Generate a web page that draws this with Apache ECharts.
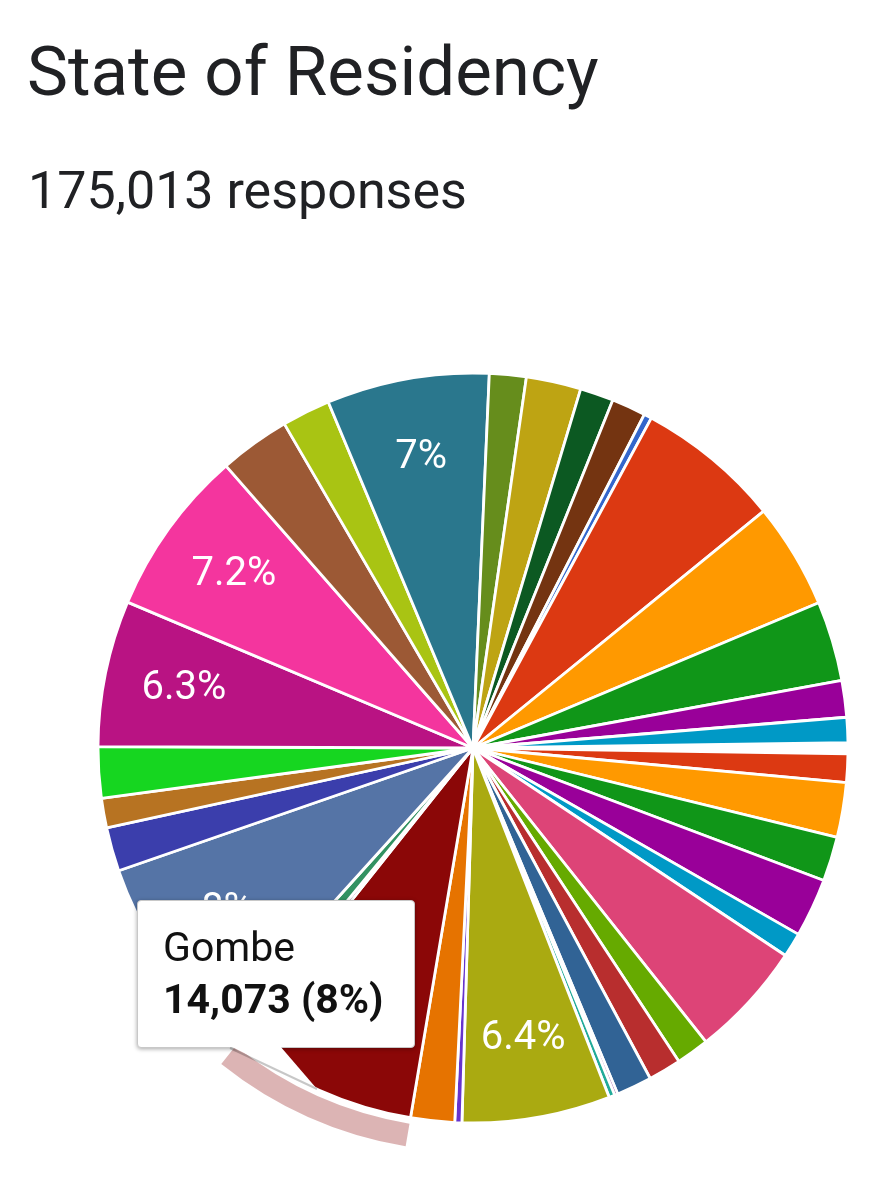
<!DOCTYPE html>
<html>
<head>
<meta charset="utf-8">
<script src="https://cdn.jsdelivr.net/npm/echarts@6/dist/echarts.min.js"></script>
<style>
  html, body { margin: 0; padding: 0; background: #ffffff; }
  #chart { width: 893px; height: 1200px; position: relative; }
</style>
</head>
<body>
<div id="chart"></div>
<script>
// ---- data (clockwise from 3 o'clock) ----
const titleText = 'State of Residency';
const subtitleText = '175,013 responses';
const categories = ['Abia','Adamawa','Akwa Ibom','Anambra','Bauchi','Bayelsa','Benue','Borno','Cross River','Delta',
  'Ebonyi','Edo','Ekiti','Enugu','FCT','Gombe','Imo','Jigawa','Kaduna','Kano','Katsina','Kebbi','Kogi','Kwara',
  'Lagos','Nasarawa','Niger','Ogun','Ondo','Osun','Oyo','Plateau','Rivers','Sokoto','Taraba','Yobe','Zamfara'];
const responses = [826, 2139, 4132, 3354, 4424, 1847, 8751, 2479, 2479, 2674,
  243, 438, 11181, 535, 3306, 14073, 438, 1288, 14001, 3306, 2236, 3841, 11036, 12591,
  5348, 3646, 12251, 2771, 4132, 2528, 2577, 583, 10900, 7963, 6028, 2771, 1897];
const sliceColors = ['#ffffff','#dc3912','#ff9900','#109618','#990099','#0099c6','#dd4477','#66aa00','#b82e2e','#316395',
  '#994499','#22aa99','#aaaa11','#6633cc','#e67300','#8b0707','#651067','#329262','#5574a6','#3b3eac','#b77322','#16d620',
  '#b91383','#f4359e','#9c5935','#a9c413','#2a778d','#668d1c','#bea413','#0c5922','#743411','#3366cc','#dc3912','#ff9900',
  '#109618','#990099','#0099c6'];
const hoveredState = 'Gombe';
const labelThresholdPct = 6.25;

// ---- chart ----
const total = responses.reduce((a, b) => a + b, 0);
const pctText = v => {
  const p = (v / total * 100).toFixed(1);
  return (p.endsWith('.0') ? p.slice(0, -2) : p) + '%';
};
const CX = 473, CY = 748, R = 375;
const START = 0.8;
const FONT = 'Roboto, "Noto Sans", Arial, sans-serif';

const mainData = categories.map((c, i) => ({
  name: c, value: responses[i],
  itemStyle: { color: sliceColors[i] }
}));
const labelData = categories.map((c, i) => ({
  name: c, value: responses[i],
  label: { show: responses[i] / total * 100 >= labelThresholdPct }
}));
const ringData = categories.map((c, i) => ({
  name: c, value: responses[i],
  itemStyle: { color: c === hoveredState ? 'rgba(139,7,7,0.3)' : 'rgba(0,0,0,0)' }
}));

const chart = echarts.init(document.getElementById('chart'), null, { renderer: 'canvas' });
chart.setOption({
  animation: false,
  backgroundColor: '#ffffff',
  title: [
    { text: titleText, left: 22, top: 38,
      textStyle: { fontFamily: FONT, fontSize: 69, fontWeight: 'normal', color: '#202124' } },
    { text: subtitleText, left: 23, top: 164,
      textStyle: { fontFamily: FONT, fontSize: 52, fontWeight: 'normal', color: '#202124' } }
  ],
  tooltip: {
    trigger: 'item',
    triggerOn: 'none',
    alwaysShowContent: true,
    transitionDuration: 0,
    padding: 0,
    backgroundColor: '#ffffff',
    borderColor: '#c8c8c8',
    borderWidth: 1,
    extraCssText: 'width:278px;height:148px;box-sizing:border-box;border-radius:4px;box-shadow:0 1px 4px rgba(0,0,0,0.35);',
    position: function () { return [137, 900]; },
    formatter: function (p) {
      return '<div style="position:relative;width:100%;height:100%;">' +
        '<div style="position:absolute;left:25px;top:20px;font-family:' + FONT.replace(/"/g, "'") + ';font-size:41px;line-height:52px;color:#111;">' + p.name + '</div>' +
        '<div style="position:absolute;left:25px;top:72px;font-family:' + FONT.replace(/"/g, "'") + ';font-size:41px;line-height:52px;font-weight:bold;color:#111;">' +
          p.value.toLocaleString('en-US') + ' (' + pctText(p.value) + ')</div>' +
        '<svg style="position:absolute;left:92px;top:145px;overflow:visible" width="90" height="46">' +
          '<polygon points="0,0 50,0 87,43" fill="#ffffff"/>' +
          '<line x1="0" y1="2" x2="87" y2="43" stroke="rgba(0,0,0,0.22)" stroke-width="2"/>' +
        '</svg></div>';
    }
  },
  series: [
    {
      type: 'pie', name: 'ring', silent: true, z: 1,
      center: [CX, CY], radius: [381, 404], startAngle: START, clockwise: true,
      label: { show: false }, labelLine: { show: false },
      emphasis: { disabled: true }, tooltip: { show: false },
      itemStyle: { borderWidth: 0 },
      data: ringData
    },
    {
      type: 'pie', name: 'State of Residency', z: 2,
      center: [CX, CY], radius: [0, R], startAngle: START, clockwise: true,
      label: { show: false }, labelLine: { show: false },
      emphasis: { scale: false, disabled: true },
      itemStyle: { borderColor: '#ffffff', borderWidth: 2.8 },
      data: mainData
    },
    {
      type: 'pie', name: 'labels', silent: true, z: 3,
      center: [CX, CY], radius: [209, R], startAngle: START, clockwise: true,
      itemStyle: { color: 'rgba(0,0,0,0)', borderWidth: 0 },
      emphasis: { disabled: true }, tooltip: { show: false },
      labelLine: { show: false },
      label: {
        show: true, position: 'inside', color: '#ffffff',
        fontFamily: FONT, fontSize: 40, fontWeight: 'normal',
        formatter: p => pctText(p.value)
      },
      data: labelData
    }
  ]
});
chart.dispatchAction({ type: 'showTip', seriesIndex: 1, dataIndex: categories.indexOf(hoveredState) });
</script>
</body>
</html>
